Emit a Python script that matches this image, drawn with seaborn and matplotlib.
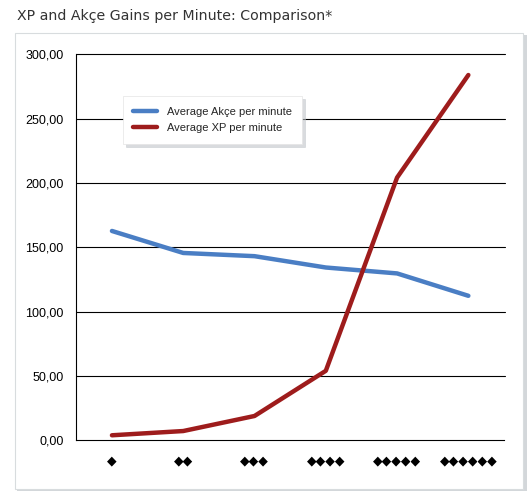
import matplotlib
matplotlib.use("Agg")
import matplotlib.pyplot as plt
import matplotlib.patches as mpatches
import numpy as np
import pandas as pd
import seaborn as sns

# data
levels = ["\u25c6", "\u25c6\u25c6", "\u25c6\u25c6\u25c6", "\u25c6\u25c6\u25c6\u25c6",
          "\u25c6\u25c6\u25c6\u25c6\u25c6", "\u25c6\u25c6\u25c6\u25c6\u25c6\u25c6"]
akce_per_min = [162.7, 145.6, 143.1, 134.3, 129.7, 112.3]
xp_per_min = [3.9, 7.2, 18.9, 54.0, 204.2, 283.9]
series_names = ["Average Akçe per minute", "Average XP per minute"]
y_ticks = [0, 50, 100, 150, 200, 250, 300]

df = pd.DataFrame({
    "level": levels * 2,
    "value": akce_per_min + xp_per_min,
    "series": [series_names[0]] * 6 + [series_names[1]] * 6,
})

sns.set_style("white")
plt.rcParams["font.family"] = ["Liberation Sans Narrow", "Liberation Sans", "DejaVu Sans"]

fig = plt.figure(figsize=(5.31, 4.92), dpi=100)

# panel with shadow
shadow = mpatches.Rectangle((17 / 531, 1 / 492), 510 / 531, 456 / 492,
                            transform=fig.transFigure, facecolor="#d3d7da",
                            edgecolor="none", zorder=-2)
panel = mpatches.Rectangle((15 / 531, 3 / 492), 508 / 531, 456 / 492,
                           transform=fig.transFigure, facecolor="white",
                           edgecolor="#d8dcde", linewidth=0.8, zorder=-1)
fig.patches.extend([shadow, panel])

fig.text(17 / 531, 1 - 16 / 492, "XP and Akçe Gains per Minute: Comparison*",
         fontsize=10.2, color="#333333", va="center", ha="left",
         family=["DejaVu Sans"])

ax = fig.add_axes([76.3 / 531, 1 - 440.3 / 492, (504 - 76.3) / 531, (440.3 - 54.3) / 492])
ax.set_facecolor("none")

sns.lineplot(data=df, x="level", y="value", hue="series",
             palette=["#4a7ec4", "#9e1c1c"], linewidth=3.2, ax=ax,
             sort=False, legend=True)

ax.set_xlim(-0.5, 5.5)
ax.set_ylim(0, 300)
ax.set_yticks(y_ticks)
ax.set_yticklabels([f"{v},00" for v in y_ticks], fontsize=9)
for v in y_ticks[1:]:
    ax.axhline(v, color="black", lw=0.8, zorder=0, xmax=1.003, clip_on=False)

ax.set_xticks(range(len(levels)))
ax.set_xticklabels(levels, fontsize=9, family=["DejaVu Sans"])
ax.set_xticks(np.arange(-0.5, 6, 1), minor=True)
ax.tick_params(axis="x", which="major", length=0, pad=10)
ax.tick_params(axis="x", which="minor", length=5, width=0.8, color="black", direction="out")
ax.tick_params(axis="y", length=5, width=0.8, color="black", direction="out", pad=4)
ax.tick_params(axis="both", colors="black")
ax.set_xlabel("")
ax.set_ylabel("")

for s in ["top", "right"]:
    ax.spines[s].set_visible(False)
for s in ["left", "bottom"]:
    ax.spines[s].set_color("black")
    ax.spines[s].set_linewidth(0.8)

leg = ax.legend(loc="upper left", bbox_to_anchor=(0.109, 0.892), borderaxespad=0,
                fontsize=8, frameon=True, fancybox=False,
                shadow={"color": "#c0c4c8", "alpha": 0.6}, borderpad=0.95,
                handlelength=2.1, labelspacing=0.6, handletextpad=0.9)
leg.get_frame().set_edgecolor("#e4e4e4")
leg.get_frame().set_linewidth(0.5)
for line in leg.get_lines():
    line.set_linewidth(3.2)

fig.savefig("out.png", dpi=100)
